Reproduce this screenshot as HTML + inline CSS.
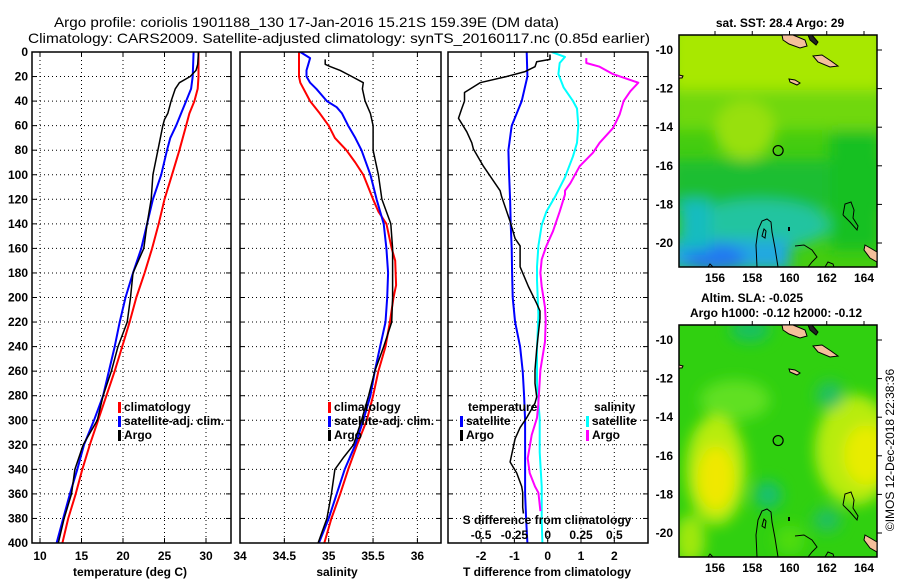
<!DOCTYPE html>
<html><head><meta charset="utf-8">
<style>
html,body{margin:0;padding:0;background:#fff;}
svg{display:block;font-family:"Liberation Sans",sans-serif;}
.tk{font-size:12px;font-weight:bold;fill:#000;}
.lg{font-size:12px;font-weight:bold;fill:#000;}
</style></head>
<body>
<svg id="fig" width="900" height="580" viewBox="0 0 900 580" xmlns="http://www.w3.org/2000/svg">
<defs>
<filter id="blur6" x="-20%" y="-20%" width="140%" height="140%"><feGaussianBlur stdDeviation="7"/></filter>
<clipPath id="clipTop"><rect x="679" y="35" width="198" height="232"/></clipPath>
<clipPath id="clipBot"><rect x="679" y="325" width="198" height="232"/></clipPath>
<clipPath id="cp1"><rect x="32" y="52" width="199" height="491"/></clipPath>
<clipPath id="cp2"><rect x="240" y="52" width="201" height="491"/></clipPath>
<clipPath id="cp3"><rect x="448" y="52" width="200" height="491"/></clipPath>
</defs>
<text x="54" y="27" textLength="505" lengthAdjust="spacingAndGlyphs" style="font-size:14px">Argo profile: coriolis 1901188_130 17-Jan-2016 15.21S 159.39E (DM data)</text>
<text x="28" y="43" textLength="622" lengthAdjust="spacingAndGlyphs" style="font-size:14px">Climatology: CARS2009. Satellite-adjusted climatology: synTS_20160117.nc (0.85d earlier)</text>

<g id="p1"></g>
<g id="p2"></g>
<g id="p3"></g>

<g>
<text x="780" y="27" text-anchor="middle" class="tk">sat. SST: 28.4 Argo: 29</text>
<g clip-path="url(#clipTop)">
<rect x="679" y="35" width="198" height="232" fill="#44cc10"/>
<g filter="url(#blur6)">
<rect x="670" y="25" width="215" height="70" fill="#a8e800"/>
<rect x="670" y="90" width="215" height="40" fill="#70d808"/>
<ellipse cx="745" cy="130" rx="30" ry="30" fill="#98e010"/>
<rect x="670" y="160" width="215" height="50" fill="#1ebe30"/>
<ellipse cx="760" cy="225" rx="70" ry="25" fill="#20c4a0"/>
<rect x="670" y="240" width="120" height="30" fill="#20a8e0"/>
<ellipse cx="715" cy="258" rx="30" ry="14" fill="#2078f0"/>
<rect x="680" y="200" width="30" height="50" fill="#18bcc0"/>
<rect x="830" y="130" width="50" height="120" fill="#14c020"/>
</g>
</g>
<rect x="679" y="35" width="198" height="232" fill="none" stroke="#000" stroke-width="1.5"/>
</g>

<g>
<text x="752" y="302" text-anchor="middle" class="tk">Altim. SLA: -0.025</text>
<text x="776" y="317" text-anchor="middle" class="tk">Argo h1000: -0.12 h2000: -0.12</text>
<g clip-path="url(#clipBot)">
<rect x="679" y="325" width="198" height="232" fill="#30d010"/>
<g filter="url(#blur6)">
<ellipse cx="750" cy="330" rx="20" ry="12" fill="#18c060"/>
<ellipse cx="735" cy="400" rx="35" ry="20" fill="#60e020"/>
<ellipse cx="716" cy="470" rx="30" ry="55" fill="#b8ec10"/>
<ellipse cx="716" cy="478" rx="18" ry="32" fill="#f0e800"/>
<ellipse cx="855" cy="450" rx="40" ry="55" fill="#b8ec10"/>
<ellipse cx="866" cy="455" rx="22" ry="30" fill="#e8ec00"/>
<ellipse cx="768" cy="495" rx="14" ry="14" fill="#18c070"/>
<ellipse cx="830" cy="395" rx="14" ry="14" fill="#20c060"/>
<ellipse cx="827" cy="520" rx="14" ry="12" fill="#20c060"/>
<ellipse cx="690" cy="540" rx="15" ry="25" fill="#a0e810"/>
<ellipse cx="790" cy="540" rx="15" ry="15" fill="#50dc10"/>
</g>
</g>
<rect x="679" y="325" width="198" height="232" fill="none" stroke="#000" stroke-width="1.5"/>
</g>
<g id="maps-overlay"></g>
<text transform="translate(894,450) rotate(-90)" text-anchor="middle" style="font-size:12px">©IMOS 12-Dec-2018 22:38:36</text>

<script>
var depthTicks = [0,20,40,60,80,100,120,140,160,180,200,220,240,260,280,300,320,340,360,380,400];
var tempTicks = [10,15,20,25,30];
var salTicks = [34,34.5,35,35.5,36];
var tdTicks = [-2,-1,0,1,2];
var sdTicks = [-0.5,-0.25,0,0.25,0.5];
var sdTickLabels = ["-0.5","-0.25","0","0.25","0.5"];

var climDepth = [0,20,30,40,50,60,80,100,120,140,160,180,200,220,240,260,280,300,320,340,360,380,400];
var climTemp  = [29.1,29.1,29.0,28.6,28.0,27.6,26.8,25.9,25.0,24.3,23.5,22.6,21.6,20.8,19.9,19.0,18.0,17.0,16.0,15.1,14.3,13.4,12.7];
var satDepth = [0,20,30,40,50,60,70,80,100,120,140,160,180,200,220,240,260,280,300,320,340,360,380,400];
var satTemp  = [28.5,28.4,28.2,27.6,27.0,26.4,25.7,25.3,24.6,23.6,22.9,22.2,21.2,20.3,19.6,19.0,18.3,17.6,16.5,15.3,14.5,13.6,12.8,12.0];
var argoDepth = [0,10,15,20,25,30,40,50,55,60,80,100,120,140,160,180,200,220,240,260,280,300,320,340,360,380,400];
var argoTemp  = [29.1,29.0,28.8,28.1,26.8,26.3,25.8,25.4,25.0,24.8,24.2,23.6,23.4,22.9,22.5,21.2,20.9,20.5,19.4,18.6,17.6,16.9,15.2,14.2,13.8,12.9,12.2];

var climSDepth = [0,20,25,40,50,60,70,80,90,100,120,130,140,160,170,190,200,220,240,260,280,300,320,340,360,380,400];
var climSal    = [34.665,34.665,34.68,34.79,34.90,35.0,35.07,35.2,35.3,35.39,35.5,35.56,35.65,35.71,35.75,35.76,35.73,35.69,35.64,35.56,35.5,35.43,35.32,35.22,35.13,35.03,34.95];
var satSDepth = [0,5,10,15,20,25,30,40,45,50,60,70,80,100,120,140,160,180,200,220,240,260,280,300,320,340,360,380,400];
var satSal    = [34.68,34.79,34.77,34.75,34.75,34.79,34.86,34.98,35.09,35.15,35.22,35.30,35.37,35.47,35.54,35.62,35.65,35.67,35.66,35.64,35.58,35.52,35.47,35.39,35.30,35.18,35.09,35.0,34.89];
var argoSDepth = [6,10,12,15,20,25,30,40,50,60,80,100,120,130,140,160,180,200,220,240,260,280,300,320,330,340,360,380,400];
var argoSal    = [34.96,34.96,35.02,35.13,35.26,35.39,35.38,35.41,35.47,35.5,35.5,35.56,35.6,35.65,35.7,35.72,35.72,35.72,35.71,35.62,35.52,35.45,35.37,35.28,35.17,35.07,35.03,34.98,34.88];

var tdSatDepth = [0,20,40,60,80,100,120,140,160,180,200,220,240,260,280,300,320,340,360,380,400];
var tdSat      = [-0.63,-0.61,-0.78,-1.08,-1.18,-1.16,-1.13,-1.11,-1.08,-1.07,-1.05,-0.98,-0.83,-0.75,-0.71,-0.68,-0.68,-0.68,-0.68,-0.65,-0.61];
var tdArgoDepth = [2,6,8,12,16,20,25,33,40,46,54,65,74,79,93,113,118,138,152,158,169,175,191,205,211,217,242,259,270,281,286,298,306,315,334,343,354,359,371,376];
var tdArgo      = [0.07,0.07,-0.33,-0.38,-0.68,-1.23,-2.03,-2.5,-2.5,-2.58,-2.68,-2.43,-2.28,-2.23,-1.93,-1.43,-1.38,-1.13,-0.98,-0.83,-0.83,-0.83,-0.58,-0.33,-0.23,-0.23,-0.33,-0.38,-0.38,-0.33,-0.38,-0.63,-0.83,-0.98,-1.13,-0.93,-0.78,-0.75,-0.75,-0.73];
var sdSatDepth = [0,4,9,18,29,40,46,60,74,85,102,118,130,141,158,175,186,214,242,270,286,298,326,354,382,400];
var sdSat      = [0.03,0.13,0.09,0.08,0.12,0.19,0.22,0.23,0.22,0.19,0.13,0.055,-0.01,-0.045,-0.07,-0.08,-0.08,-0.07,-0.08,-0.08,-0.07,-0.06,-0.06,-0.045,-0.045,-0.04];
var sdArgoDepth = [5,9,12,18,25,32,40,51,62,74,82,93,107,113,116,130,146,158,169,180,191,208,219,236,259,286,298,312,331,343,354,359,374];
var sdArgo      = [0.29,0.29,0.39,0.49,0.68,0.62,0.57,0.54,0.49,0.39,0.34,0.24,0.17,0.13,0.13,0.09,0.04,-0.01,-0.045,-0.055,-0.045,-0.02,-0.015,-0.02,-0.055,-0.07,-0.08,-0.12,-0.15,-0.135,-0.095,-0.07,-0.055];

var NS = "http://www.w3.org/2000/svg";
var Y0 = 52, Y1 = 543;
function yD(d){ return Y0 + d*(Y1-Y0)/400; }
function xT(t){ return 40 + (t-10)*8.3; }
function xS(s){ return 240 + (s-34)*88.7; }
function xTD(t){ return 547.7 + t*33.3; }
function xSD(s){ return 547.7 + s*133.2; }

function mk(tag, attrs, parent){
  var e = document.createElementNS(NS, tag);
  for (var k in attrs) e.setAttribute(k, attrs[k]);
  parent.appendChild(e);
  return e;
}
function txt(parent, x, y, s, anchor, cls){
  var t = mk('text', {x:x, y:y, 'text-anchor':anchor||'middle', 'class':cls||'tk'}, parent);
  t.textContent = s;
  return t;
}
function panel(g, x0, x1, vgrid, xf, clipId){
  var grid = mk('g', {}, g);
  
  
  vgrid.forEach(function(v){
    var x = xf(v);
    if (x > x0+1 && x < x1-1) mk('line', {x1:x, y1:Y0, x2:x, y2:Y1, stroke:'#000', 'stroke-width':1, 'stroke-dasharray':'1,3'}, grid);
  });
  depthTicks.forEach(function(d){
    if (d>0 && d<400) mk('line', {x1:x0, y1:yD(d), x2:x1, y2:yD(d), stroke:'#000', 'stroke-width':1, 'stroke-dasharray':'1,3'}, grid);
    mk('line', {x1:x0, y1:yD(d), x2:x0+5, y2:yD(d), stroke:'#000'}, grid);
    mk('line', {x1:x1, y1:yD(d), x2:x1-5, y2:yD(d), stroke:'#000'}, grid);
  });
  vgrid.forEach(function(v){
    var x = xf(v);
    mk('line', {x1:x, y1:Y1, x2:x, y2:Y1-5, stroke:'#000'}, grid);
    mk('line', {x1:x, y1:Y0, x2:x, y2:Y0+5, stroke:'#000'}, grid);
  });
  var lines = mk('g', {'clip-path':'url(#'+clipId+')'}, g);
  var frame = mk('rect', {x:x0, y:Y0, width:x1-x0, height:Y1-Y0, fill:'none', stroke:'#000', 'stroke-width':1.5}, g);
  
  
  return lines;
}
function series(parent, xs, ds, xf, color, w, name){
  var pts = xs.map(function(v,i){ return xf(v).toFixed(1)+','+yD(ds[i]).toFixed(1); }).join(' ');
  var p = mk('polyline', {points:pts, fill:'none', stroke:color, 'stroke-width':w, 'stroke-linejoin':'round'}, parent);
  
  
}
function legend(g, x, y, color, label, name){
  var r = mk('rect', {x:x, y:y-9, width:3, height:11, fill:color}, g);
  
  
  var t = txt(g, x+6, y, label, 'start', 'lg');
  
  
}

var g1 = document.getElementById('p1');
var l1 = panel(g1, 32, 231, tempTicks, xT, 'cp1');
series(l1, climTemp, climDepth, xT, '#ff0000', 2, 'climatology-temp-line');
series(l1, satTemp, satDepth, xT, '#0000ff', 2, 'satellite-temp-line');
series(l1, argoTemp, argoDepth, xT, '#000000', 1.5, 'argo-temp-line');
depthTicks.forEach(function(d){
  var t = txt(g1, 28, yD(d)+4, String(d), 'end');
  
  
});
tempTicks.forEach(function(v){
  var t = txt(g1, xT(v), 560, String(v));
  
  
});
var xl1 = txt(g1, 130, 576, 'temperature (deg C)');


legend(g1, 118, 411, '#ff0000', 'climatology', 'legend-climatology');
legend(g1, 118, 425, '#0000ff', 'satellite-adj. clim.', 'legend-satellite');
legend(g1, 118, 439, '#000000', 'Argo', 'legend-argo');

var g2 = document.getElementById('p2');
var l2 = panel(g2, 240, 441, salTicks, xS, 'cp2');
series(l2, climSal, climSDepth, xS, '#ff0000', 2, 'climatology-sal-line');
series(l2, satSal, satSDepth, xS, '#0000ff', 2, 'satellite-sal-line');
series(l2, argoSal, argoSDepth, xS, '#000000', 1.5, 'argo-sal-line');
salTicks.forEach(function(v){
  var t = txt(g2, xS(v), 560, String(v));
  
  
});
var xl2 = txt(g2, 337, 576, 'salinity');


legend(g2, 328, 411, '#ff0000', 'climatology', 'legend-climatology-2');
legend(g2, 328, 425, '#0000ff', 'satellite-adj. clim.', 'legend-satellite-2');
legend(g2, 328, 439, '#000000', 'Argo', 'legend-argo-2');

var g3 = document.getElementById('p3');
var l3 = panel(g3, 448, 648, tdTicks, xTD, 'cp3');
series(l3, sdSat, sdSatDepth, xSD, '#00ffff', 2, 'salinity-satellite-diff-line');
series(l3, sdArgo, sdArgoDepth, xSD, '#ff00ff', 2, 'salinity-argo-diff-line');
series(l3, tdSat, tdSatDepth, xTD, '#0000ff', 2, 'temperature-satellite-diff-line');
series(l3, tdArgo, tdArgoDepth, xTD, '#000000', 1.5, 'temperature-argo-diff-line');
tdTicks.forEach(function(v){
  var t = txt(g3, xTD(v), 560, String(v));
  
  
});
sdTicks.forEach(function(v,i){
  var t = txt(g3, xSD(v), 539, sdTickLabels[i]);
  
  
});
var sdt = txt(g3, 547, 524, 'S difference from climatology');


var xl3 = txt(g3, 547, 576, 'T difference from climatology');


var lt = txt(g3, 468, 411, 'temperature', 'start', 'lg');


var ls = txt(g3, 594, 411, 'salinity', 'start', 'lg');


legend(g3, 460, 425, '#0000ff', 'satellite', 'legend-t-satellite');
legend(g3, 460, 439, '#000000', 'Argo', 'legend-t-argo');
legend(g3, 586, 425, '#00ffff', 'satellite', 'legend-s-satellite');
legend(g3, 586, 439, '#ff00ff', 'Argo', 'legend-s-argo');

var mapLons = [156,158,160,162,164];
var mapLats = [-10,-12,-14,-16,-18,-20];
var argoLon = 159.39, argoLat = -15.21;
function mx(lon){ return 715 + (lon-156)*18.625; }
function my(lat, off){ return off + 50 + (-lat-10)*19.3; }
var ov = document.getElementById('maps-overlay');
[0,290].forEach(function(off){
  var g = mk('g', {}, ov);
  
  
  var land = mk('g', {fill:'#f4c09a', stroke:'#000', 'stroke-width':1, transform:'translate(0,'+off+')'}, g);
  
  
  mk('polygon', {points:'782,35 793,35 805,40 807,46 800,48 789,44 783,40'}, land);
  mk('polygon', {points:'813,56 822,55 831,61 838,66 830,67 818,62'}, land);
  mk('polygon', {points:'808,35 812,35 818,42 816,45 810,40', fill:'#222'}, land);
  mk('polygon', {points:'789,79 795,80 800,83 797,85 790,82'}, land);
  mk('polygon', {points:'865,245 872,249 877,252 877,262 870,258 864,250'}, land);
  mk('polygon', {points:'679,75 683,76 682,78 679,78'}, land);
  var c = mk('g', {fill:'none', stroke:'#000', 'stroke-width':1, transform:'translate(0,'+off+')'}, g);
  
  
  mk('path', {d:'M757,267 L756,245 L758,230 L762,221 L767,219 L771,222 L772,232 L775,248 L778,267'}, c);
  mk('path', {d:'M762,236 L764,229 L766,231 L765,238 Z'}, c);
  mk('path', {d:'M795,246 L804,245 L812,250 L817,257 L812,262 L808,267'}, c);
  mk('path', {d:'M843,215 L845,204 L851,202 L854,210 L853,218 L858,226 L857,230 L850,222 L843,215'}, c);
  mk('path', {d:'M825,267 L828,262 L833,264 L834,267'}, c);
  mk('path', {d:'M708,267 L710,264 L713,267'}, c);
  mk('line', {x1:789, y1:227, x2:789, y2:231, 'stroke-width':2}, c);
  var circ = mk('circle', {cx:mx(argoLon), cy:my(argoLat,off), r:5, fill:'none', stroke:'#000', 'stroke-width':1.2}, g);
  
  
  mapLons.forEach(function(lon){
    mk('line', {x1:mx(lon), y1:off+35, x2:mx(lon), y2:off+31, stroke:'#000'}, g);
    var t = txt(g, mx(lon), off+282, String(lon));
    
    
  });
  mapLats.forEach(function(lat){
    mk('line', {x1:877, y1:my(lat,off), x2:882, y2:my(lat,off), stroke:'#000'}, g);
    var t = txt(g, 673, my(lat,off)+4, String(lat), 'end');
    
    
  });
});
</script>
</svg>
</body></html>
